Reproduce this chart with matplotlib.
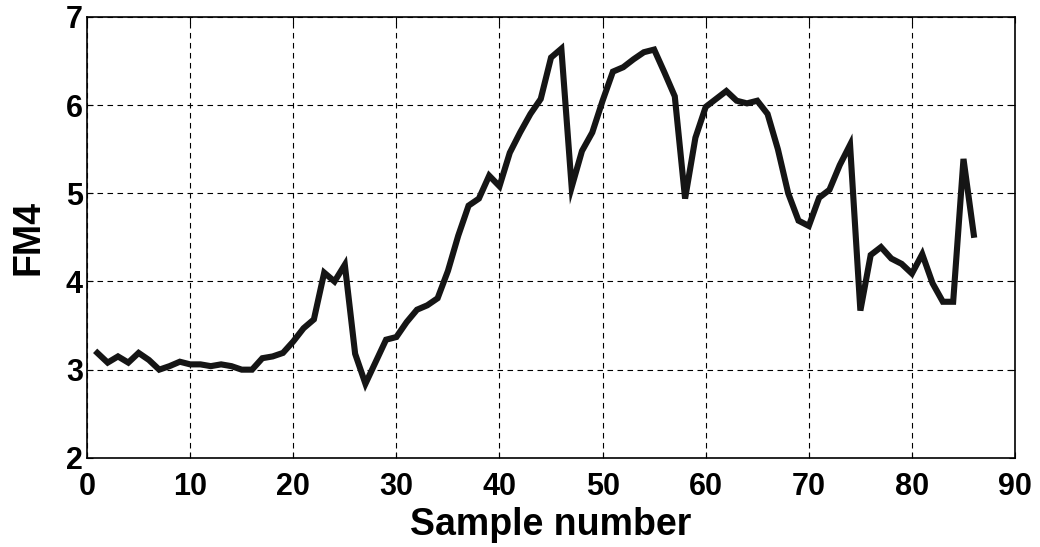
import matplotlib
matplotlib.use("Agg")
import matplotlib.pyplot as plt
import numpy as np

# sample index and FM4 values
samples = list(range(1, 87))
fm4 = [3.19, 3.08, 3.15, 3.08, 3.19, 3.11, 3.00, 3.04, 3.09, 3.06,
       3.06, 3.04, 3.06, 3.04, 3.00, 3.00, 3.13, 3.15, 3.19, 3.32,
       3.47, 3.57, 4.10, 4.00, 4.19, 3.18, 2.84, 3.09, 3.34, 3.37,
       3.54, 3.68, 3.73, 3.81, 4.12, 4.52, 4.86, 4.94, 5.20, 5.08,
       5.46, 5.69, 5.90, 6.07, 6.54, 6.64, 5.07, 5.48, 5.69, 6.05,
       6.38, 6.43, 6.52, 6.60, 6.63, 6.37, 6.10, 4.94, 5.63, 5.98,
       6.07, 6.16, 6.05, 6.02, 6.05, 5.90, 5.50, 5.00, 4.69, 4.63,
       4.95, 5.04, 5.32, 5.55, 3.67, 4.30, 4.39, 4.26, 4.20, 4.09,
       4.31, 3.98, 3.77, 3.77, 5.39, 4.53]

xticks = list(range(0, 91, 10))
yticks = [2, 3, 4, 5, 6, 7]

plt.rcParams['font.family'] = ['Liberation Sans', 'DejaVu Sans']
plt.rcParams['font.weight'] = 'bold'

fig = plt.figure(figsize=(10.4, 5.47), dpi=100)
ax = fig.add_axes([0.0837, 0.163, 0.8923, 0.806])

ax.plot(samples, fm4, color='#151515', linewidth=4.4, solid_joinstyle='miter')

ax.set_xlim(0, 90)
ax.set_ylim(2, 7)
ax.set_xticks(xticks)
ax.set_yticks(yticks)
ax.grid(True, color='black', linestyle=(0, (5, 4)), linewidth=0.8)
ax.tick_params(direction='in', length=4, width=0.8, top=True, right=True,
               labelsize=22)
ax.tick_params(axis='x', pad=10)
ax.tick_params(axis='y', pad=3)
for lbl in ax.get_xticklabels() + ax.get_yticklabels():
    lbl.set_fontweight('bold')
for s in ax.spines.values():
    s.set_linewidth(1.2)
    s.set_color('black')

ax.set_xlabel('Sample number', fontsize=27, fontweight='bold', labelpad=4)
ax.set_ylabel('FM4', fontsize=27, fontweight='bold', labelpad=14)

fig.savefig('out.png', dpi=100)
